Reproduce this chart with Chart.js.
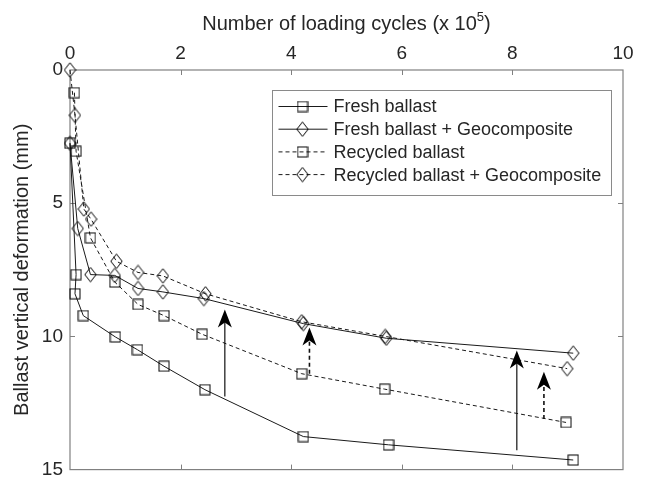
<!DOCTYPE html>
<html>
<head>
<meta charset="utf-8">
<script src="https://cdn.jsdelivr.net/npm/chart.js@4/dist/chart.umd.min.js"></script>
<style>
  html, body { margin: 0; padding: 0; background: #fff; }
  #wrap { width: 646px; height: 488px; }
</style>
</head>
<body>
<div id="wrap"><canvas id="deformChart" width="646" height="488"></canvas></div>
<script>
// Loading cycles (x 10^5) and vertical deformation (mm) for each test
const freshX = [0, 0.11, 0.09, 0.24, 0.82, 1.22, 1.70, 2.44, 4.22, 5.76, 9.10];
const freshY = [2.75, 7.68, 8.40, 9.22, 10.02, 10.50, 11.12, 12.00, 13.76, 14.07, 14.64];

const freshGeoX = [0, 0.14, 0.37, 0.81, 1.23, 1.68, 2.42, 4.22, 5.72, 9.10];
const freshGeoY = [2.75, 5.95, 7.68, 7.71, 8.20, 8.33, 8.58, 9.52, 10.07, 10.63];

const recycledX = [0.08, 0.11, 0.37, 0.81, 1.23, 1.70, 2.39, 4.19, 5.69, 8.97];
const recycledY = [0.85, 3.05, 6.30, 7.96, 8.80, 9.22, 9.92, 11.40, 11.98, 13.23];

const recycledGeoX = [0, 0.09, 0.25, 0.38, 0.84, 1.23, 1.68, 2.45, 4.19, 5.70, 8.99];
const recycledGeoY = [0, 1.70, 5.22, 5.60, 7.18, 7.60, 7.73, 8.40, 9.45, 10.00, 11.21];

const seriesNames = ['Fresh ballast', 'Fresh ballast + Geocomposite', 'Recycled ballast', 'Recycled ballast + Geocomposite'];

// Improvement arrows (x position, from deformation, to deformation)
const arrowX = [2.80, 4.33, 8.08, 8.57];
const arrowFrom = [12.26, 11.40, 14.27, 13.10];
const arrowTo = [8.99, 9.67, 10.53, 11.33];
const arrowDashed = [false, true, false, true];

const xTicks = [0, 2, 4, 6, 8, 10];
const yTicks = [0, 5, 10, 15];

const fontFamily = '"Liberation Sans", Arial, Helvetica, sans-serif';
const lineColor = '#1a1a1a';
const markerColor = '#3c3c3c';
const axisColor = '#808080';
const textColor = '#262626';
const dashPattern = [4, 3];

// Hollow markers drawn on small canvases
function makeMarker(kind) {
  const c = document.createElement('canvas');
  const ctx = c.getContext('2d');
  ctx.strokeStyle = markerColor;
  ctx.lineWidth = 1.1;
  if (kind === 'square') {
    c.width = 12; c.height = 12;
    ctx.strokeRect(1, 1, 10, 10);
  } else {
    c.width = 13; c.height = 16;
    ctx.beginPath();
    ctx.moveTo(6.5, 0.8);
    ctx.lineTo(12.2, 8);
    ctx.lineTo(6.5, 15.2);
    ctx.lineTo(0.8, 8);
    ctx.closePath();
    ctx.stroke();
  }
  return c;
}
const squareMarker = makeMarker('square');
const diamondMarker = makeMarker('diamond');

function toPoints(xs, ys) {
  return xs.map((x, i) => ({ x: x, y: ys[i] }));
}

function makeSeries(label, xs, ys, marker, dashed) {
  return {
    label: label,
    data: toPoints(xs, ys),
    borderColor: lineColor,
    borderWidth: 1,
    borderDash: dashed ? dashPattern : [],
    pointStyle: marker,
    pointRadius: 6,
    pointHoverRadius: 6,
    fill: false,
    tension: 0,
    clip: false
  };
}

const seriesList = [
  makeSeries(seriesNames[0], freshX, freshY, squareMarker, false),
  makeSeries(seriesNames[1], freshGeoX, freshGeoY, diamondMarker, false),
  makeSeries(seriesNames[2], recycledX, recycledY, squareMarker, true),
  makeSeries(seriesNames[3], recycledGeoX, recycledGeoY, diamondMarker, true)
];

// Box around the plot with inward tick marks
const framePlugin = {
  id: 'frame',
  beforeDatasetsDraw(chart) {
    const { ctx, chartArea: a, scales } = chart;
    ctx.save();
    ctx.strokeStyle = axisColor;
    ctx.lineWidth = 1.2;
    ctx.strokeRect(a.left, a.top, a.right - a.left, a.bottom - a.top);
    ctx.lineWidth = 1;
    xTicks.slice(1, -1).forEach(v => {
      const px = Math.round(scales.x.getPixelForValue(v)) + 0.5;
      ctx.beginPath();
      ctx.moveTo(px, a.top); ctx.lineTo(px, a.top + 5);
      ctx.moveTo(px, a.bottom); ctx.lineTo(px, a.bottom - 5);
      ctx.stroke();
    });
    yTicks.slice(1, -1).forEach(v => {
      const py = Math.round(scales.y.getPixelForValue(v)) + 0.5;
      ctx.beginPath();
      ctx.moveTo(a.left, py); ctx.lineTo(a.left + 5, py);
      ctx.moveTo(a.right, py); ctx.lineTo(a.right - 5, py);
      ctx.stroke();
    });
    ctx.restore();
  }
};

// Vertical arrows showing the reduction in settlement
const arrowPlugin = {
  id: 'arrows',
  afterDatasetsDraw(chart) {
    const { ctx, scales } = chart;
    ctx.save();
    arrowX.forEach((xv, i) => {
      const px = scales.x.getPixelForValue(xv);
      const y0 = scales.y.getPixelForValue(arrowFrom[i]);
      const y1 = scales.y.getPixelForValue(arrowTo[i]);
      ctx.strokeStyle = '#111';
      ctx.lineWidth = arrowDashed[i] ? 1.6 : 1.2;
      ctx.setLineDash(arrowDashed[i] ? [4, 3] : []);
      ctx.beginPath();
      ctx.moveTo(px, y0);
      ctx.lineTo(px, y1 + 12);
      ctx.stroke();
      ctx.setLineDash([]);
      ctx.fillStyle = '#000';
      ctx.beginPath();
      ctx.moveTo(px, y1);
      ctx.lineTo(px + 7, y1 + 18);
      ctx.lineTo(px, y1 + 13);
      ctx.lineTo(px - 7, y1 + 18);
      ctx.closePath();
      ctx.fill();
    });
    ctx.restore();
  }
};

// Legend box inside the plot, plus the top axis title with superscript
const legendPlugin = {
  id: 'boxLegend',
  afterDraw(chart) {
    const { ctx, chartArea: a } = chart;
    ctx.save();
    const boxW = 339, boxH = 105;
    const bx = a.right - 12 - boxW + 0.5;
    const by = a.top + 20 + 0.5;
    ctx.fillStyle = '#fff';
    ctx.fillRect(bx, by, boxW, boxH);
    ctx.strokeStyle = '#8a8a8a';
    ctx.lineWidth = 1;
    ctx.strokeRect(bx, by, boxW, boxH);
    ctx.font = '18px ' + fontFamily;
    ctx.textBaseline = 'middle';
    ctx.fillStyle = textColor;
    seriesList.forEach((s, i) => {
      const rowY = by + 16 + i * 22.7;
      ctx.strokeStyle = lineColor;
      ctx.lineWidth = 1;
      ctx.setLineDash(s.borderDash);
      ctx.beginPath();
      ctx.moveTo(bx + 6, rowY);
      ctx.lineTo(bx + 55, rowY);
      ctx.stroke();
      ctx.setLineDash([]);
      const m = s.pointStyle;
      ctx.fillStyle = '#fff';
      ctx.drawImage(m, bx + 30 - m.width / 2, rowY - m.height / 2);
      ctx.fillStyle = textColor;
      ctx.fillText(s.label, bx + 61, rowY + 1);
    });

    // x axis title: Number of loading cycles (x 10^5)
    const main = 'Number of loading cycles (x 10';
    const sup = '5';
    const close = ')';
    ctx.font = '20px ' + fontFamily;
    const w1 = ctx.measureText(main).width;
    const w3 = ctx.measureText(close).width;
    ctx.font = '13px ' + fontFamily;
    const w2 = ctx.measureText(sup).width;
    const total = w1 + w2 + w3;
    const cx = (a.left + a.right) / 2;
    let tx = cx - total / 2;
    const base = 30;
    ctx.textBaseline = 'alphabetic';
    ctx.textAlign = 'left';
    ctx.font = '20px ' + fontFamily;
    ctx.fillText(main, tx, base);
    tx += w1;
    ctx.font = '13px ' + fontFamily;
    ctx.fillText(sup, tx, base - 9);
    tx += w2;
    ctx.font = '20px ' + fontFamily;
    ctx.fillText(close, tx, base);
    ctx.restore();
  }
};

const chartElement = document.getElementById('deformChart');
const currentChart = new Chart(chartElement, {
  type: 'line',
  data: { datasets: seriesList },
  options: {
    responsive: false,
    animation: false,
    devicePixelRatio: 1,
    layout: { padding: { top: 0, right: 23, bottom: 10, left: 0 } },
    plugins: {
      legend: { display: false },
      tooltip: { enabled: false }
    },
    scales: {
      x: {
        type: 'linear',
        position: 'top',
        min: 0,
        max: 10,
        afterFit: scale => { scale.height = 70; },
        afterBuildTicks: scale => { scale.ticks = xTicks.map(v => ({ value: v })); },
        grid: { display: false, drawTicks: false },
        border: { display: false },
        ticks: {
          padding: 5,
          color: textColor,
          font: { size: 19, family: fontFamily }
        }
      },
      y: {
        type: 'linear',
        reverse: true,
        min: 0,
        max: 15,
        afterFit: scale => { scale.width = 70; },
        afterBuildTicks: scale => { scale.ticks = yTicks.map(v => ({ value: v })); },
        grid: { display: false, drawTicks: false },
        border: { display: false },
        ticks: {
          padding: 7,
          color: textColor,
          font: { size: 19, family: fontFamily }
        },
        title: {
          display: true,
          text: 'Ballast vertical deformation (mm)',
          color: textColor,
          font: { size: 20, family: fontFamily },
          padding: { top: 10, bottom: 0 }
        }
      }
    }
  },
  plugins: [framePlugin, arrowPlugin, legendPlugin]
});
</script>
</body>
</html>
